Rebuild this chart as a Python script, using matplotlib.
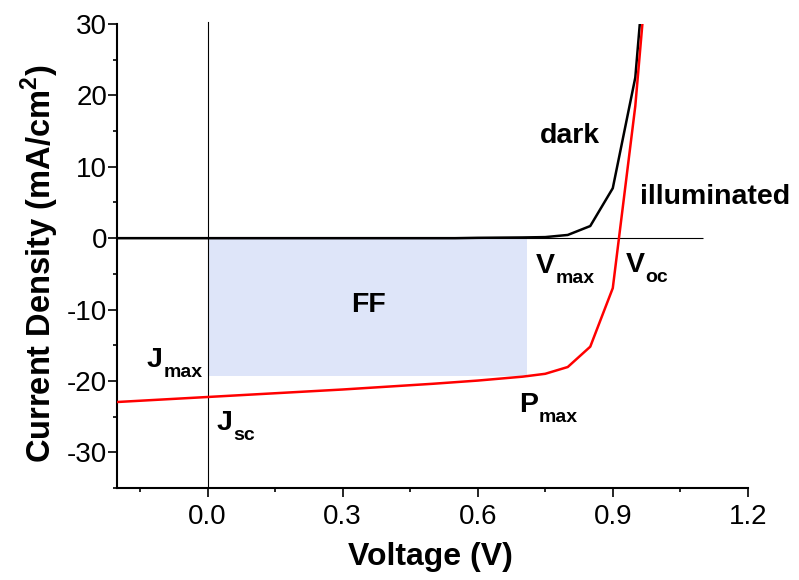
import matplotlib
matplotlib.use("Agg")
import matplotlib.pyplot as plt
from matplotlib import font_manager
from matplotlib.ticker import MultipleLocator
from matplotlib.transforms import offset_copy

# J-V data (V in volts, J in mA/cm2)
v_dark = [-0.2, 0.55, 0.6, 0.7, 0.75, 0.8, 0.85, 0.9, 0.95, 1.0]
j_dark = [0.0, 0.0, 0.05, 0.1, 0.15, 0.45, 1.7, 7.0, 22.5, 60.0]

v_light = [-0.2, -0.1, 0.0, 0.1, 0.2, 0.3, 0.4, 0.5, 0.6, 0.7, 0.75, 0.8, 0.85, 0.9, 0.95, 1.0]
j_light = [-22.95, -22.6, -22.25, -21.9, -21.55, -21.2, -20.8, -20.4, -19.95, -19.4,
           -19.0, -18.05, -15.2, -7.0, 18.5, 55.0]

v_max = 0.71
j_max = -19.3

names = {f.name for f in font_manager.fontManager.ttflist}
tick_font = "Liberation Sans Narrow" if "Liberation Sans Narrow" in names else "Liberation Sans"
tick_size = 22 if tick_font == "Liberation Sans Narrow" else 20

plt.rcParams["font.family"] = ["Liberation Sans", "DejaVu Sans"]
plt.rcParams["axes.unicode_minus"] = False
plt.rcParams["mathtext.fontset"] = "custom"
plt.rcParams["mathtext.rm"] = "Liberation Sans"
plt.rcParams["mathtext.bf"] = "Liberation Sans:bold"

fig = plt.figure(figsize=(7.99, 5.8), dpi=100)
ax = fig.add_axes([0.147, 0.1586, 0.789, 0.8])

# FF rectangle
ax.fill_between([0, v_max], [j_max, j_max], 0, color="#dee5f9", lw=0, zorder=1)

# reference lines
ax.hlines(0, -0.2, 1.1, color="black", lw=0.8, zorder=2)
ax.axvline(0, ymax=1.004, color="black", lw=0.8, zorder=2, clip_on=False)

ax.plot(v_dark, j_dark, color="black", lw=1.8, zorder=3)
ax.plot(v_light, j_light, color="red", lw=1.8, zorder=3)

ax.set_xlim(-0.2, 1.2)
ax.set_ylim(-35, 30)
ax.xaxis.set_major_locator(MultipleLocator(0.3))
ax.xaxis.set_minor_locator(MultipleLocator(0.15))
ax.yaxis.set_major_locator(MultipleLocator(10))
ax.yaxis.set_minor_locator(MultipleLocator(5))

ax.spines["top"].set_visible(False)
ax.spines["right"].set_visible(False)
ax.spines["left"].set_linewidth(1.5)
ax.spines["bottom"].set_linewidth(1.5)
ax.tick_params(which="major", length=6.5, width=1.2, direction="out")
ax.tick_params(which="minor", length=3, width=1.2, direction="out")
ax.tick_params(axis="y", which="major", pad=1)
ax.tick_params(axis="x", which="major", pad=5)

ax.set_xticks([0.0, 0.3, 0.6, 0.9, 1.2])
ax.set_xticklabels(["0.0", "0.3", "0.6", "0.9", "1.2"])
for lab in ax.get_xticklabels() + ax.get_yticklabels():
    lab.set_fontfamily(tick_font)
    lab.set_fontsize(tick_size)

fig.text(430 / 799, 1 - 557 / 580, "Voltage (V)", fontsize=23, fontweight="bold",
         ha="center", va="center")
fig.text(40 / 799, 1 - 264 / 580, r"Current Density (mA/cm$^\mathbf{2}$)", fontsize=23.5,
         fontweight="bold", rotation=90, ha="center", va="center")

# annotations
FS = 20.5
lab_kw = dict(fontsize=FS, fontweight="bold", va="baseline", ha="left")


def sub_label(x, y, main, sub, width_em):
    # main letter plus a dropped subscript, like the original drawing
    ax.text(x, y, main, **lab_kw)
    tr = offset_copy(ax.transData, fig=fig, x=width_em * FS + 0.5, y=-7, units="points")
    ax.text(x, y, sub, transform=tr, fontsize=14, fontweight="bold",
            va="baseline", ha="left")


ax.text(0.737, 13.3, "dark", **lab_kw)
ax.text(0.961, 4.8, "illuminated", **lab_kw)
ax.text(0.358, -9.4, "FF", fontsize=FS, fontweight="bold", ha="center", va="center")
sub_label(0.729, -4.9, "V", "max", 0.667)
sub_label(0.929, -4.8, "V", "oc", 0.667)
sub_label(0.692, -24.4, "P", "max", 0.667)
sub_label(-0.135, -18.05, "J", "max", 0.556)
sub_label(0.02, -26.9, "J", "sc", 0.556)

fig.savefig("out.png", dpi=100)
